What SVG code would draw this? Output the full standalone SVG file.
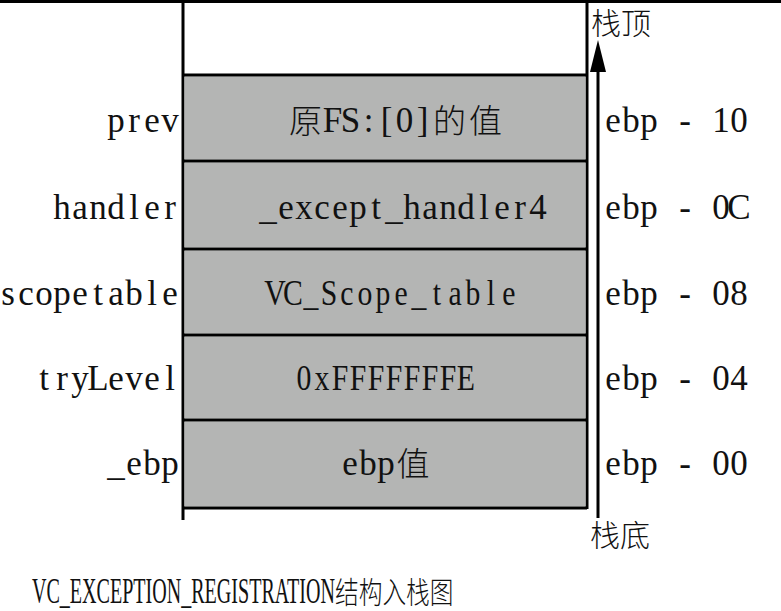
<svg xmlns="http://www.w3.org/2000/svg" width="781" height="611" viewBox="0 0 781 611">
<style>
text{font-family:"Liberation Serif","Noto Sans CJK SC",serif;fill:#111;font-size:35px}
.m{text-anchor:middle}
.cjk{font-family:"Noto Sans CJK SC","Liberation Serif",sans-serif;font-weight:300;text-anchor:middle;font-size:33px}
.side{font-family:"Noto Sans CJK SC",sans-serif;font-weight:300;font-size:30px}
.cell{fill:#b4b5b4;stroke:none}
.ln{stroke:#000;stroke-width:3;fill:none}
</style>
<rect width="781" height="611" fill="#fff"/>
<g id="frame">
<line class="ln" x1="0" y1="1.5" x2="781" y2="1.5"/>
<line class="ln" x1="183" y1="0" x2="183" y2="520"/>
<line class="ln" x1="587" y1="0" x2="587" y2="509"/>
</g>
<g id="row-prev">
<rect class="cell" x="184.5" y="76.5" width="401" height="83"/>
<line class="ln" x1="183" y1="75" x2="587" y2="75"/>
<text class="m" y="132" x="116 134 152 170">prev</text>
<text class="cjk" x="305.5" y="133">原</text>
<text class="m" y="132" x="332.5 350.5 368.5 386.5 404.5 422.5">FS:[0]</text>
<text class="cjk" x="449.5 485.5" y="133">的值</text>
<text class="m" y="132" x="613 631 649 667 685 703 721 739">ebp - 10</text>
</g>
<g id="row-handler">
<rect class="cell" x="184.5" y="162.5" width="401" height="85"/>
<line class="ln" x1="183" y1="161" x2="587" y2="161"/>
<text class="m" y="219" x="62 80 98 116 134 152 170">handler</text>
<text class="m" y="219" x="268 286 304 322 340 358 376 394 412 430 448 466 484 502 520 538">_except_handler4</text>
<text class="m" y="219" x="613 631 649 667 685 703 721 739">ebp - 0C</text>
</g>
<g id="row-scopetable">
<rect class="cell" x="184.5" y="250.5" width="401" height="83"/>
<line class="ln" x1="183" y1="249" x2="587" y2="249"/>
<text class="m" y="305" x="8 26 44 62 80 98 116 134 152 170">scopetable</text>
<text class="m" transform="scale(0.85,1)" y="305" x="323.5 344.7 365.9 387.1 408.2 429.4 450.6 471.8 492.9 514.1 535.3 556.5 577.6 598.8">VC_Scope_table</text>
<text class="m" y="305" x="613 631 649 667 685 703 721 739">ebp - 08</text>
</g>
<g id="row-trylevel">
<rect class="cell" x="184.5" y="336.5" width="401" height="82"/>
<line class="ln" x1="183" y1="335" x2="587" y2="335"/>
<text class="m" y="390" x="44 62 80 98 116 134 152 170">tryLevel</text>
<text class="m" transform="scale(0.85,1)" y="390" x="357.6 378.8 400 421.2 442.4 463.5 484.7 505.9 527.1 548.2">0xFFFFFFFE</text>
<text class="m" y="390" x="613 631 649 667 685 703 721 739">ebp - 04</text>
</g>
<g id="row-ebp">
<rect class="cell" x="184.5" y="421.5" width="401" height="85"/>
<line class="ln" x1="183" y1="420" x2="587" y2="420"/>
<line class="ln" x1="183" y1="508" x2="587" y2="508"/>
<text class="m" y="475" x="116 134 152 170">_ebp</text>
<text class="m" y="475" x="350 368 386">ebp</text>
<text class="cjk" x="413" y="476">值</text>
<text class="m" y="475" x="613 631 649 667 685 703 721 739">ebp - 00</text>
</g>
<g id="label-top">
<text class="side" x="591" y="34">栈顶</text>
</g>
<g id="label-bottom">
<text class="side" x="590" y="546">栈底</text>
</g>
<g id="caption">
<text transform="scale(0.573,1)" x="55.8" y="603" font-size="37">VC_EXCEPTION_REGISTRATION</text>
<text class="side" transform="scale(0.79,1)" x="424.1" y="603" font-size="28">结构入栈图</text>
</g>
<g id="connectors">
<line x1="598" y1="518" x2="598" y2="70" stroke="#000" stroke-width="3"/>
<polygon points="598,40 606,72 590,72" fill="#000"/>
</g>
</svg>
